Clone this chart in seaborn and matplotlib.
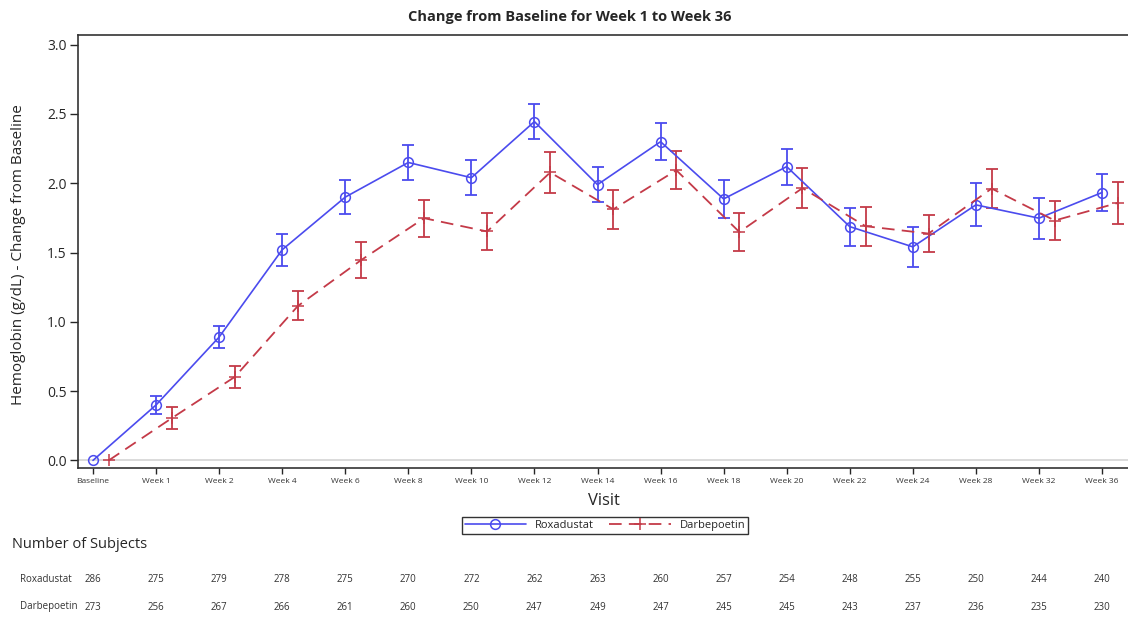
import numpy as np
import pandas as pd
import matplotlib
matplotlib.use("Agg")
import matplotlib.pyplot as plt
import matplotlib.transforms as mtransforms
from matplotlib.lines import Line2D
import seaborn as sns

visits = ["Baseline", "Week 1", "Week 2", "Week 4", "Week 6", "Week 8", "Week 10",
          "Week 12", "Week 14", "Week 16", "Week 18", "Week 20", "Week 22",
          "Week 24", "Week 28", "Week 32", "Week 36"]
roxa_mean = [0.00, 0.40, 0.89, 1.52, 1.90, 2.15, 2.04, 2.445, 1.99, 2.30, 1.887,
             2.12, 1.687, 1.541, 1.844, 1.748, 1.933]
roxa_err = [np.nan, 0.064, 0.081, 0.117, 0.12, 0.128, 0.126, 0.126, 0.126, 0.135,
            0.135, 0.13, 0.137, 0.145, 0.156, 0.149, 0.136]
darb_mean = [0.00, 0.305, 0.603, 1.115, 1.445, 1.748, 1.652, 2.078, 1.812, 2.094,
             1.648, 1.965, 1.69, 1.637, 1.962, 1.731, 1.858]
darb_err = [np.nan, 0.078, 0.08, 0.105, 0.13, 0.133, 0.133, 0.148, 0.142, 0.138,
            0.138, 0.147, 0.14, 0.132, 0.14, 0.139, 0.149]
roxa_n = [286, 275, 279, 278, 275, 270, 272, 262, 263, 260, 257, 254, 248, 255, 250, 244, 240]
darb_n = [273, 256, 267, 266, 261, 260, 250, 247, 249, 247, 245, 245, 243, 237, 236, 235, 230]
groups = ["Roxadustat", "Darbepoetin"]

BLUE = "#4B4BEE"
RED = "#C43A48"
OFFSET = 0.25

sns.set_style("ticks")
plt.rcParams["font.family"] = ["Open Sans", "DejaVu Sans"]

fig = plt.figure(figsize=(11.28, 6.19), dpi=100)
ax = fig.add_axes([78 / 1128, 1 - 468 / 619, (1140 - 78) / 1128, (468 - 35) / 619])

idx = np.arange(len(visits))
df_r = pd.DataFrame({"x": idx, "y": roxa_mean, "err": roxa_err})
df_d = pd.DataFrame({"x": idx + OFFSET, "y": darb_mean, "err": darb_err})

ax.axhline(0, color="#d4d4d4", lw=1.2, zorder=0)

sns.lineplot(data=df_r, x="x", y="y", ax=ax, color=BLUE, lw=1.2, marker="o",
             markersize=7, markerfacecolor="none", markeredgecolor=BLUE,
             markeredgewidth=1.1, sort=False, zorder=3)
sns.lineplot(data=df_d, x="x", y="y", ax=ax, color=RED, lw=1.3, marker="+",
             markersize=8, markeredgecolor=RED, markeredgewidth=1.1,
             dashes=(7, 4), sort=False, zorder=3)
ax.lines[-1].set_dashes((7, 4))

m = df_r["err"].notna()
ax.errorbar(df_r.loc[m, "x"], df_r.loc[m, "y"], yerr=df_r.loc[m, "err"], fmt="none",
            ecolor=BLUE, elinewidth=1.3, capsize=4.5, capthick=1.3, zorder=2)
m = df_d["err"].notna()
ax.errorbar(df_d.loc[m, "x"], df_d.loc[m, "y"], yerr=df_d.loc[m, "err"], fmt="none",
            ecolor=RED, elinewidth=1.3, capsize=4.5, capthick=1.3, zorder=2)

px_per_unit = (1102 - 93) / 16
ax.set_xlim(-(93 - 78) / px_per_unit, (1140 - 93) / px_per_unit)
ax.set_ylim(-0.055, 3.07)
ax.set_xticks(idx)
ax.set_xticklabels(visits, fontsize=6, color="#333333")
ax.set_yticks([0, 0.5, 1.0, 1.5, 2.0, 2.5, 3.0])
ax.set_yticklabels(["0.0", "0.5", "1.0", "1.5", "2.0", "2.5", "3.0"], fontsize=10)
ax.tick_params(axis="x", length=4, width=1, pad=3)
ax.tick_params(axis="y", length=6, width=1, pad=2)
for s in ax.spines.values():
    s.set_color("#333333")
    s.set_linewidth(1.2)
ax.spines["right"].set_visible(False)
ax.set_xlabel("")
ax.set_ylabel("")

fig.text(570 / 1128, 1 - 17 / 619, "Change from Baseline for Week 1 to Week 36",
         ha="center", va="center", fontsize=10.5, fontweight="bold")
fig.text(19 / 1128, 1 - 255 / 619, "Hemoglobin (g/dL) - Change from Baseline",
         ha="center", va="center", rotation=90, fontsize=11)
fig.text(604 / 1128, 1 - 501 / 619, "Visit", ha="center", va="center", fontsize=12)

handles = [Line2D([], [], color=BLUE, lw=1.2, marker="o", markersize=7,
                  markerfacecolor="none", markeredgewidth=1.1),
           Line2D([], [], color=RED, lw=1.3, marker="+", markersize=8,
                  markeredgewidth=1.1, dashes=(7, 4))]
leg = fig.legend(handles, groups, loc="center", bbox_to_anchor=(605 / 1128, 1 - 525.5 / 619),
                 ncol=2, fontsize=8, frameon=True, fancybox=False, edgecolor="black",
                 handlelength=5.5, columnspacing=1.4, borderpad=0.25, handletextpad=0.8)
leg.get_frame().set_linewidth(1.0)

fig.text(12 / 1128, 1 - 544 / 619, "Number of Subjects", ha="left", va="center",
         fontsize=10.5)
trans = mtransforms.blended_transform_factory(ax.transData, fig.transFigure)
for label, counts, ypix in [(groups[0], roxa_n, 579), (groups[1], darb_n, 607)]:
    yf = 1 - ypix / 619
    fig.text(20 / 1128, yf, label, ha="left", va="center", fontsize=7, color="#333333")
    for i, n in enumerate(counts):
        ax.text(i, yf, str(n), transform=trans, ha="center", va="center",
                fontsize=7, color="#333333", clip_on=False)

fig.savefig("out.png", dpi=100)
